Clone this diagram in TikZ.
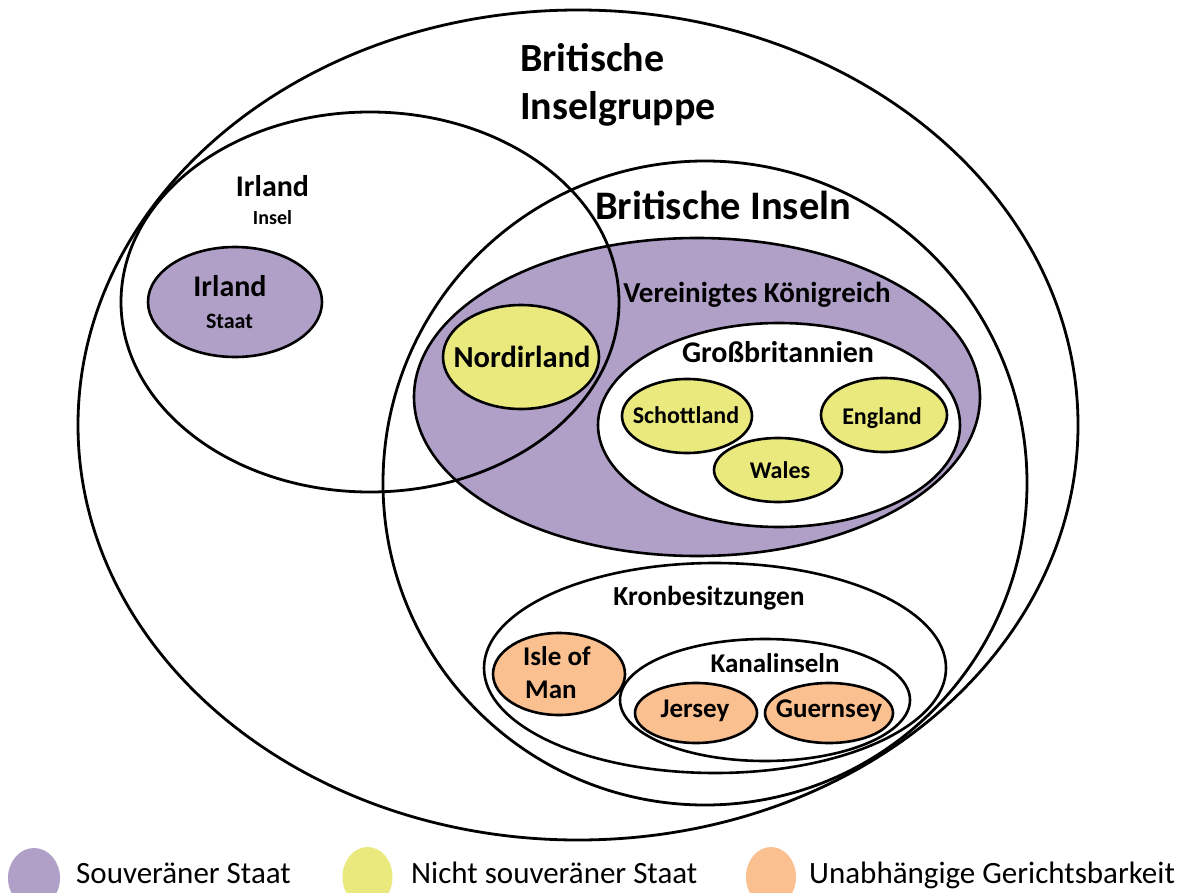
\documentclass[tikz,border=0pt]{standalone}
\usepackage{fontspec}
\setmainfont{Carlito}
\definecolor{souv}{HTML}{B0A0C8}
\definecolor{nsouv}{HTML}{E9E97E}
\definecolor{unabh}{HTML}{FAC090}
\newcommand{\fs}[1]{\fontsize{#1}{#1}\selectfont}
\begin{document}
\begin{tikzpicture}[x=1pt,y=-1pt,
  outl/.style={draw=black,line width=2.8pt},
  inl/.style={draw=black,line width=2.6pt},
  lbl/.style={inner sep=0pt,font=\bfseries},
  leg/.style={inner sep=0pt},
]
\useasboundingbox (0,0) rectangle (1194,893);
\clip (0,0) rectangle (1194,893);
\fill[white] (0,0) rectangle (1194,893);

% Britische Inselgruppe (outer)
\path[outl] (578,425) ellipse [x radius=500pt, y radius=415pt];

% Britische Inseln
\path[outl] (705,483) ellipse [x radius=322pt, y radius=322pt];

% Vereinigtes Koenigreich
\path[inl,fill=souv] (697,397) ellipse [x radius=283pt, y radius=159pt];
% Nordirland
\path[inl,fill=nsouv] (521,357) ellipse [x radius=78pt, y radius=52pt];
% Grossbritannien
\path[inl,fill=white] (779,425) ellipse [x radius=181pt, y radius=102pt];
\path[inl,fill=nsouv] (687,416) ellipse [x radius=65pt, y radius=37pt];
\path[inl,fill=nsouv] (884,415) ellipse [x radius=63pt, y radius=37pt];
\path[inl,fill=nsouv] (778,470) ellipse [x radius=64pt, y radius=32pt];

% Kronbesitzungen
\path[inl] (715,668) ellipse [x radius=231pt, y radius=105pt];
\path[inl] (765,700) ellipse [x radius=145pt, y radius=61pt];
\path[inl,fill=unabh] (559,674) ellipse [x radius=66pt, y radius=41pt];
\path[inl,fill=unabh] (696,713) ellipse [x radius=61pt, y radius=30pt];
\path[inl,fill=unabh] (829,713) ellipse [x radius=64pt, y radius=30pt];

% Irland (Insel)
\path[outl] (370,302) ellipse [x radius=249pt, y radius=190pt];

% Irland (Staat)
\path[inl,fill=souv] (235,302) ellipse [x radius=87pt, y radius=55pt];

% texts
\node[lbl,anchor=base west] (t1) at (520,72) {\fs{40}Britische};
\node[lbl,anchor=base west] (t2) at (520,120) {\fs{40}Inselgruppe};
\node[lbl,anchor=base west] (bi) at (595,220) {\fs{40.5}Britische Inseln};
\node[lbl,anchor=base] (irl) at (272.5,197) {\fs{30}Irland};
\node[lbl,anchor=base] (irli) at (272.5,225) {\fs{20}Insel};
\node[lbl,anchor=base] (irs) at (230,297) {\fs{30}Irland};
\node[lbl,anchor=base] (irss) at (229.5,328) {\fs{22}Staat};
\node[lbl,anchor=base] (ni) at (522,367) {\fs{30.5}Nordirland};
\node[lbl,anchor=base] (vk) at (757,303) {\fs{29}Vereinigtes Königreich};
\node[lbl,anchor=base] (gb) at (778,362) {\fs{30}Großbritannien};
\node[lbl,anchor=base] (sc) at (686,423) {\fs{24}Schottland};
\node[lbl,anchor=base] (en) at (882,424) {\fs{24}England};
\node[lbl,anchor=base] (wa) at (780,478) {\fs{24}Wales};
\node[lbl,anchor=base] (kr) at (709,605) {\fs{27.5}Kronbesitzungen};
\node[lbl,anchor=base] (ka) at (775,672) {\fs{27}Kanalinseln};
\node[lbl,anchor=base west] (im1) at (523,665) {\fs{27}Isle of};
\node[lbl,anchor=base west] (im2) at (525,698) {\fs{27}Man};
\node[lbl,anchor=base] (je) at (695,717) {\fs{27}Jersey};
\node[lbl,anchor=base] (gu) at (829,717) {\fs{27}Guernsey};

% legend
\fill[souv] (34,878) ellipse [x radius=26pt, y radius=30pt];
\fill[nsouv] (367.5,877) ellipse [x radius=25pt, y radius=30pt];
\fill[unabh] (771,877) ellipse [x radius=25pt, y radius=30pt];
\node[leg,anchor=base west] (l1) at (76,883) {\fs{31}Souveräner Staat};
\node[leg,anchor=base west] (l2) at (411,883) {\fs{31}Nicht souveräner Staat};
\node[leg,anchor=base west] (l3) at (809,883) {\fs{31}Unabhängige Gerichtsbarkeit};
\end{tikzpicture}
\end{document}
